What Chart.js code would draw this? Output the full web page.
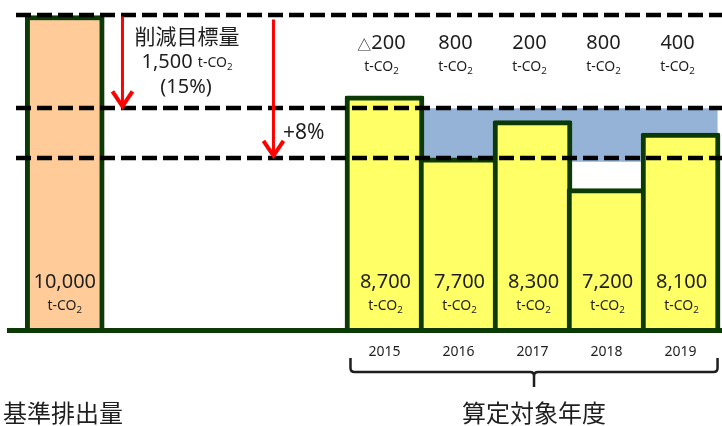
<!DOCTYPE html>
<html>
<head>
<meta charset="utf-8">
<script src="https://cdn.jsdelivr.net/npm/chart.js@4"></script>
<style>
  html, body { margin: 0; padding: 0; background: #fff; }
  canvas { display: block; }
</style>
</head>
<body>
<canvas id="chart" width="722" height="426"></canvas>
<script>
// 基準排出量と各年度の排出量 (t-CO2)
const baseLabel = '基準排出量';
const baseEmission = [10000];
const years = ['2015', '2016', '2017', '2018', '2019'];
const emissions = [8700, 7700, 8300, 7200, 8100];
const balanceLabels = ['△200', '800', '200', '800', '400'];
const targetLevel = [8500];   // 削減目標量 1,500 t-CO2 (15%)
const extraLevel = [7700];    // +8%
const periodLabel = '算定対象年度';

const FONT = "'Noto Sans', 'Noto Sans CJK JP', sans-serif";
const JFONT = "'Noto Sans CJK JP', sans-serif";
const TXT = '#1e1e1e';
const GREEN = '#0b3a06';

// "t-CO2" with small subscript 2, centered at cx
function drawUnit(ctx, cx, cy, size, prefix, prefixSize) {
    const sub = size * 0.7;
    let wp = 0;
    if (prefix) {
        ctx.font = prefixSize + 'px ' + FONT;
        wp = ctx.measureText(prefix + ' ').width;
    }
    ctx.font = size + 'px ' + FONT;
    const w1 = ctx.measureText('t-CO').width;
    ctx.font = sub + 'px ' + FONT;
    const w2 = ctx.measureText('2').width;
    let x = cx - (wp + w1 + w2) / 2;
    ctx.textAlign = 'left';
    ctx.textBaseline = 'middle';
    if (prefix) {
        ctx.font = prefixSize + 'px ' + FONT;
        ctx.fillText(prefix, x, cy);
        x += wp;
    }
    ctx.font = size + 'px ' + FONT;
    ctx.fillText('t-CO', x, cy + 1);
    ctx.font = sub + 'px ' + FONT;
    ctx.fillText('2', x + w1, cy + size * 0.4);
}

function text(ctx, str, x, y, size, align, font) {
    ctx.font = size + 'px ' + (font || FONT);
    ctx.textAlign = align || 'center';
    ctx.textBaseline = 'middle';
    ctx.fillText(str, x, y);
}

// "△200" : triangle drawn a little smaller than the digits
function balance(ctx, str, cx, cy, size) {
    if (str[0] !== '△') return text(ctx, str, cx, cy, size);
    const rest = str.slice(1);
    ctx.font = size + 'px ' + FONT;
    const wr = ctx.measureText(rest).width;
    ctx.font = (size * 0.7) + 'px ' + JFONT;
    const wt = ctx.measureText('△').width;
    const x0 = cx - (wr + wt) / 2;
    ctx.textAlign = 'left';
    ctx.textBaseline = 'middle';
    ctx.fillText('△', x0, cy + 2);
    ctx.font = size + 'px ' + FONT;
    ctx.fillText(rest, x0 + wt, cy);
}

function arrow(ctx, x, y1, y2) {
    ctx.save();
    ctx.strokeStyle = '#ff0000';
    ctx.lineWidth = 3;
    ctx.beginPath();
    ctx.moveTo(x, y1);
    ctx.lineTo(x, y2 - 2);
    ctx.stroke();
    ctx.lineWidth = 4;
    ctx.lineJoin = 'miter';
    ctx.beginPath();
    ctx.moveTo(x - 10, y2 - 17);
    ctx.lineTo(x, y2 - 2);
    ctx.lineTo(x + 10, y2 - 17);
    ctx.stroke();
    ctx.restore();
}

const extras = {
    id: 'extras',
    beforeDatasetsDraw(chart) {
        const { ctx, scales: { x, y } } = chart;
        // 余剰分 (目標～+8%) の帯
        ctx.save();
        ctx.fillStyle = '#95b3d7';
        const x1 = x.getPixelForValue(5.5), x2 = x.getPixelForValue(9.5);
        const t = y.getPixelForValue(targetLevel[0]), b = y.getPixelForValue(extraLevel[0]);
        ctx.fillRect(x1, t, x2 - x1, b - t + 4);
        ctx.restore();
    },
    afterDatasetsDraw(chart) {
        const { ctx, chartArea, scales: { x, y } } = chart;
        ctx.save();
        // 破線
        ctx.strokeStyle = '#000';
        ctx.lineWidth = 4.5;
        ctx.setLineDash([15, 6]);
        [baseEmission[0], targetLevel[0], extraLevel[0]].forEach(v => {
            const py = Math.round(y.getPixelForValue(v));
            ctx.beginPath();
            ctx.moveTo(16, py);
            ctx.lineTo(chart.width, py);
            ctx.stroke();
        });
        ctx.setLineDash([]);
        // 横軸
        ctx.fillStyle = GREEN;
        ctx.fillRect(chartArea.left, chartArea.bottom - 3, chartArea.right - chartArea.left, 5);
        ctx.restore();

        // 矢印
        const top = y.getPixelForValue(baseEmission[0]);
        arrow(ctx, x.getPixelForValue(1.46), top + 1, y.getPixelForValue(targetLevel[0]));
        arrow(ctx, x.getPixelForValue(3.5), top + 4, y.getPixelForValue(extraLevel[0]));
    },
    afterDraw(chart) {
        const { ctx, chartArea, scales: { x } } = chart;
        ctx.save();
        ctx.fillStyle = TXT;
        const bottom = chartArea.bottom;

        // 削減目標量
        text(ctx, '削減目標量', 187, 36, 21, 'center', JFONT);
        drawUnit(ctx, 187, 62, 14, '1,500', 20);
        text(ctx, '(15%)', 186, 87, 20);
        text(ctx, '+8%', 283, 133, 21, 'left');

        // 基準排出量
        const bx = x.getPixelForValue(0.68);
        text(ctx, baseEmission[0].toLocaleString('en-US'), bx, bottom - 49, 20);
        drawUnit(ctx, bx, bottom - 26, 14);

        // 各年度
        years.forEach((yr, i) => {
            const cx = x.getPixelForValue(5 + i);
            balance(ctx, balanceLabels[i], cx - 3, 43, 20);
            drawUnit(ctx, cx - 3, 66, 14);
            text(ctx, emissions[i].toLocaleString('en-US'), cx + 1, bottom - 49, 20);
            drawUnit(ctx, cx + 1, bottom - 26, 14);
            text(ctx, yr, cx, 352, 14);
        });

        // 波括弧
        const x1 = x.getPixelForValue(5) - 34;
        const x2 = x.getPixelForValue(9) + 37;
        const xm = (x1 + x2) / 2;
        ctx.strokeStyle = TXT;
        ctx.lineWidth = 2.5;
        ctx.beginPath();
        ctx.moveTo(x1, 358);
        ctx.lineTo(x1, 368);
        ctx.quadraticCurveTo(x1, 372, x1 + 4, 372);
        ctx.lineTo(xm - 4, 372);
        ctx.quadraticCurveTo(xm, 372, xm, 376);
        ctx.lineTo(xm, 387);
        ctx.moveTo(xm, 376);
        ctx.quadraticCurveTo(xm, 372, xm + 4, 372);
        ctx.lineTo(x2 - 4, 372);
        ctx.quadraticCurveTo(x2, 372, x2, 368);
        ctx.lineTo(x2, 358);
        ctx.stroke();

        text(ctx, baseLabel, 3, 413, 24, 'left', JFONT);
        text(ctx, periodLabel, xm, 413, 24, 'center', JFONT);
        ctx.restore();
    }
};

new Chart(document.getElementById('chart'), {
    type: 'bar',
    data: {
        datasets: [
            {
                label: baseLabel,
                data: baseEmission.map(v => ({ x: 0.68, y: v })),
                backgroundColor: '#ffcc99',
                borderColor: GREEN,
                borderWidth: 5,
                borderSkipped: 'start',
                barThickness: 79,
                grouped: false
            },
            {
                label: periodLabel,
                data: emissions.map((v, i) => ({ x: 5 + i, y: v })),
                backgroundColor: '#ffff66',
                borderColor: GREEN,
                borderWidth: 5,
                borderRadius: 2,
                borderSkipped: 'start',
                barThickness: 79,
                grouped: false
            }
        ]
    },
    options: {
        responsive: false,
        animation: false,
        layout: { padding: { left: 7, right: 0, top: 0, bottom: 95 } },
        scales: {
            x: { type: 'linear', offset: false, min: -0.1, max: 9.56, display: false },
            y: { min: 4900, max: 10250, display: false }
        },
        plugins: {
            legend: { display: false },
            tooltip: { enabled: false }
        }
    },
    plugins: [extras]
});
</script>
</body>
</html>
